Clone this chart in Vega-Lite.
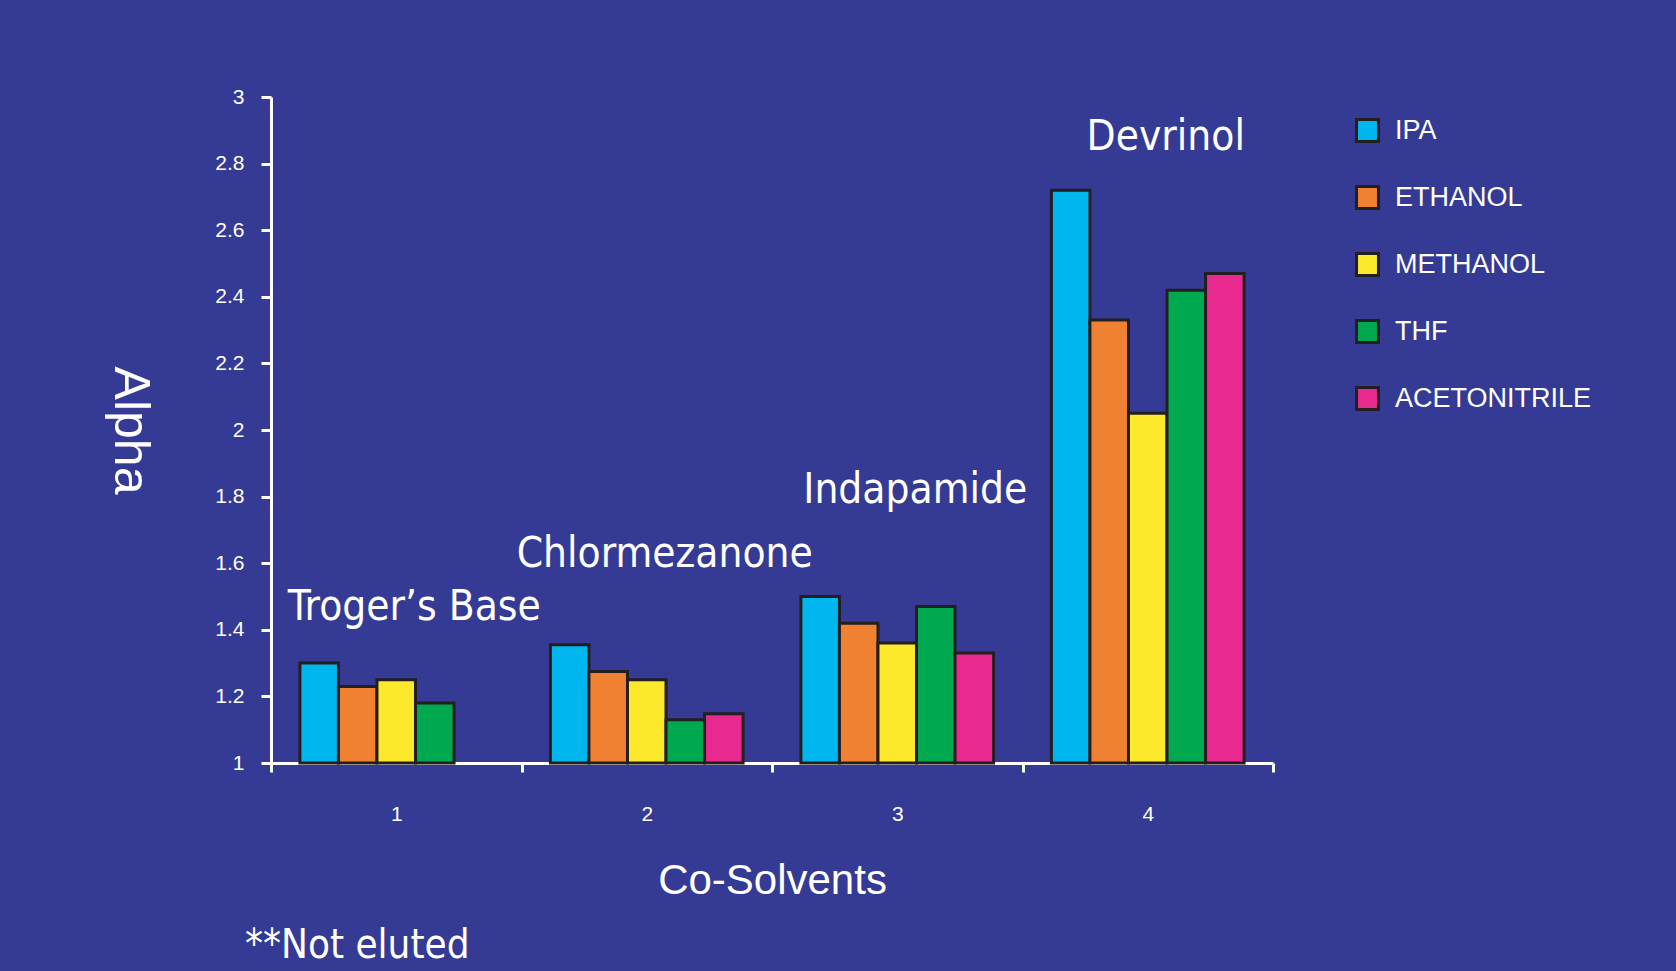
{
  "$schema": "https://vega.github.io/schema/vega-lite/v6.json",
  "width": 1002,
  "height": 666,
  "autosize": {"type": "none"},
  "padding": {"left": 271, "top": 97, "right": 403, "bottom": 208},
  "background": "#353b94",
  "config": {
    "view": {"stroke": null},
    "font": "Liberation Sans"
  },
  "title": {
    "text": "**Not eluted",
    "orient": "bottom",
    "anchor": "start",
    "frame": "group",
    "color": "white",
    "font": "'Liberation Sans Narrow', 'DejaVu Sans Condensed', sans-serif",
    "fontSize": 40,
    "fontWeight": "normal",
    "dx": -26,
    "offset": 25
  },
  "datasets": {
    "bars": [
      {"group": "1", "solvent": "IPA", "alpha": 1.30},
      {"group": "1", "solvent": "ETHANOL", "alpha": 1.23},
      {"group": "1", "solvent": "METHANOL", "alpha": 1.25},
      {"group": "1", "solvent": "THF", "alpha": 1.18},
      {"group": "2", "solvent": "IPA", "alpha": 1.355},
      {"group": "2", "solvent": "ETHANOL", "alpha": 1.275},
      {"group": "2", "solvent": "METHANOL", "alpha": 1.25},
      {"group": "2", "solvent": "THF", "alpha": 1.13},
      {"group": "2", "solvent": "ACETONITRILE", "alpha": 1.148},
      {"group": "3", "solvent": "IPA", "alpha": 1.50},
      {"group": "3", "solvent": "ETHANOL", "alpha": 1.42},
      {"group": "3", "solvent": "METHANOL", "alpha": 1.36},
      {"group": "3", "solvent": "THF", "alpha": 1.47},
      {"group": "3", "solvent": "ACETONITRILE", "alpha": 1.33},
      {"group": "4", "solvent": "IPA", "alpha": 2.72},
      {"group": "4", "solvent": "ETHANOL", "alpha": 2.33},
      {"group": "4", "solvent": "METHANOL", "alpha": 2.05},
      {"group": "4", "solvent": "THF", "alpha": 2.42},
      {"group": "4", "solvent": "ACETONITRILE", "alpha": 2.47}
    ],
    "labels": [
      {"group": "1", "compound": "Troger’s Base", "labelY": 1.43},
      {"group": "2", "compound": "Chlormezanone", "labelY": 1.59},
      {"group": "3", "compound": "Indapamide", "labelY": 1.78},
      {"group": "4", "compound": "Devrinol", "labelY": 2.84}
    ]
  },
  "layer": [
    {
      "data": {"name": "bars"},
      "mark": {"type": "bar", "stroke": "#231f20", "strokeWidth": 3, "strokeJoin": "miter", "opacity": 1},
      "encoding": {
        "x": {
          "field": "group",
          "type": "nominal",
          "title": "Co-Solvents",
          "scale": {"paddingInner": 0, "paddingOuter": 0},
          "axis": {
            "labelAngle": 0,
            "tickBand": "extent",
            "labelColor": "white",
            "labelFontSize": 21,
            "labelPadding": 31,
            "tickColor": "white",
            "tickWidth": 3,
            "tickSize": 9,
            "domainColor": "white",
            "domainWidth": 3,
            "grid": false,
            "titleColor": "white",
            "titleFontSize": 42,
            "titleFontWeight": "normal",
            "titlePadding": 36
          }
        },
        "xOffset": {
          "field": "solvent",
          "scale": {
            "domain": ["IPA", "ETHANOL", "METHANOL", "THF", "ACETONITRILE"],
            "paddingInner": 0,
            "paddingOuter": 0.75
          }
        },
        "y": {
          "field": "alpha",
          "type": "quantitative",
          "title": "Alpha",
          "scale": {"domain": [1, 3], "zero": false, "nice": false},
          "axis": {
            "values": [1, 1.2, 1.4, 1.6, 1.8, 2, 2.2, 2.4, 2.6, 2.8, 3],
            "format": "~g",
            "labelColor": "white",
            "labelFontSize": 21,
            "labelPadding": 17,
            "tickColor": "white",
            "tickWidth": 3,
            "tickSize": 10,
            "domainColor": "white",
            "domainWidth": 3,
            "grid": false,
            "titleColor": "white",
            "titleFontSize": 50,
            "titleFontWeight": "normal",
            "titleAngle": 90,
            "titlePadding": 110
          }
        },
        "y2": {"datum": 1},
        "color": {
          "field": "solvent",
          "type": "nominal",
          "scale": {
            "domain": ["IPA", "ETHANOL", "METHANOL", "THF", "ACETONITRILE"],
            "range": ["#00b6ee", "#f08133", "#fde92b", "#00a84f", "#e82990"]
          },
          "legend": {
            "orient": "none",
            "legendX": 1083,
            "legendY": 20,
            "title": null,
            "padding": 0,
            "symbolType": "square",
            "symbolSize": 480,
            "symbolStrokeColor": "#231f20",
            "symbolStrokeWidth": 3,
            "symbolOpacity": 1,
            "labelColor": "white",
            "labelFontSize": 27,
            "labelOffset": 14,
            "labelLimit": 500,
            "rowPadding": 32
          }
        }
      }
    },
    {
      "data": {"name": "labels"},
      "mark": {
        "type": "text",
        "color": "white",
        "font": "'Liberation Sans Narrow', 'DejaVu Sans Condensed', sans-serif",
        "fontSize": 42,
        "baseline": "alphabetic",
        "align": "center",
        "dx": 18
      },
      "encoding": {
        "x": {"field": "group", "type": "nominal"},
        "y": {"field": "labelY", "type": "quantitative"},
        "text": {"field": "compound"}
      }
    }
  ]
}
